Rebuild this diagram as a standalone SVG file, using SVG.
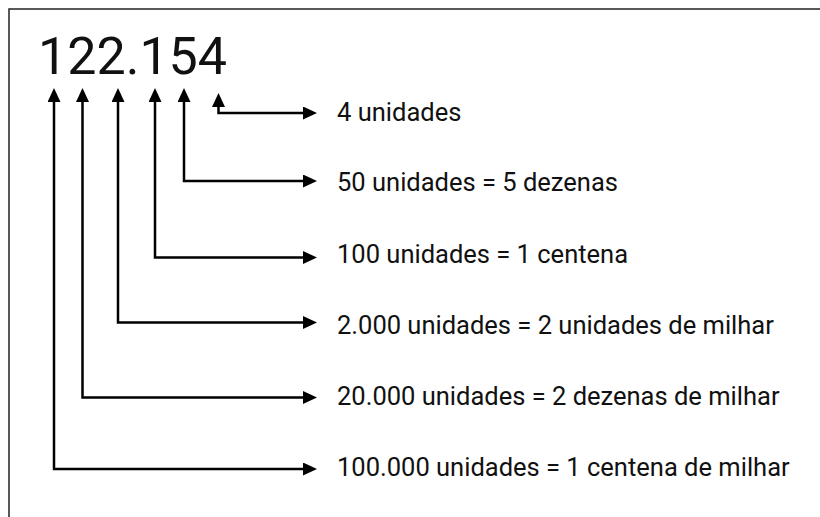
<svg xmlns="http://www.w3.org/2000/svg" width="820" height="517" viewBox="0 0 820 517">
  <style>
    .lbl { font-family: Roboto, "Liberation Sans", sans-serif; font-size: 25.5px; fill: #111; }
    .num { font-family: Roboto, "Liberation Sans", sans-serif; font-size: 52px; fill: #111; }
    .conn { fill: none; stroke: #000; stroke-width: 2.5; marker-start: url(#ah); marker-end: url(#ah); }
  </style>
  <defs>
    <marker id="ah" markerUnits="userSpaceOnUse" markerWidth="14" markerHeight="14" refX="4" refY="6.5" orient="auto-start-reverse">
      <path d="M0,0 L14,6.5 L0,13 Z" fill="#000"/>
    </marker>
  </defs>
  <rect x="9" y="9" width="900" height="600" fill="#fff" stroke="#222" stroke-width="1.5"/>
  <g id="number">
    <text class="num" x="38" y="74">122.154</text>
  </g>
  <g id="connectors">
    <path class="conn" d="M54,98 V469 H307"/>
    <path class="conn" d="M82.5,98 V397.5 H307"/>
    <path class="conn" d="M118,98 V322.5 H307"/>
    <path class="conn" d="M155,98 V257.5 H307"/>
    <path class="conn" d="M184,98 V181 H307"/>
    <path class="conn" d="M218.5,103 V113 H307"/>
  </g>
  <g id="label-4"><text class="lbl" x="337" y="121">4 unidades</text></g>
  <g id="label-50"><text class="lbl" x="337" y="191">50 unidades = 5 dezenas</text></g>
  <g id="label-100"><text class="lbl" x="337" y="263">100 unidades = 1 centena</text></g>
  <g id="label-2000"><text class="lbl" x="337" y="334">2.000 unidades = 2 unidades de milhar</text></g>
  <g id="label-20000"><text class="lbl" x="337" y="405">20.000 unidades = 2 dezenas de milhar</text></g>
  <g id="label-100000"><text class="lbl" x="337" y="476">100.000 unidades = 1 centena de milhar</text></g>
</svg>
